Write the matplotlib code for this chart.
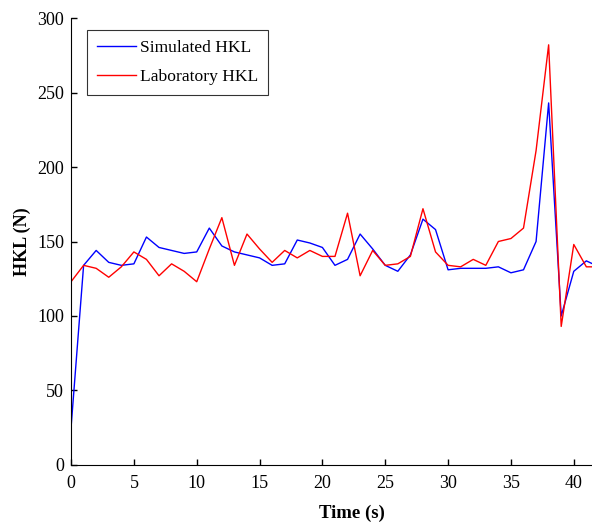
import numpy as np
import matplotlib
matplotlib.use("Agg")
import matplotlib.pyplot as plt

t = [0, 1, 2, 3, 4, 5, 6, 7, 8, 9, 10, 11, 12, 13, 14, 15, 16, 17, 18, 19, 20,
     21, 22, 23, 24, 25, 26, 27, 28, 29, 30, 31, 32, 33, 34, 35, 36, 37, 38,
     39, 40, 41, 42]
simulated = [25, 134, 144, 136, 134, 135, 153, 146, 144, 142, 143, 159, 147,
             143, 141, 139, 134, 135, 151, 149, 146, 134, 138, 155, 145, 134,
             130, 141, 165, 158, 131, 132, 132, 132, 133, 129, 131, 150, 243,
             100, 130, 137, 133]
laboratory = [123, 134, 132, 126, 133, 143, 138, 127, 135, 130, 123, 145, 166,
              134, 155, 145, 136, 144, 139, 144, 140, 140, 169, 127, 144, 134,
              135, 140, 172, 143, 134, 133, 138, 134, 150, 152, 159, 211, 282,
              93, 148, 133, 133]

plt.rcParams['font.family'] = ['Liberation Serif', 'DejaVu Serif']
fig = plt.figure(figsize=(5.92, 5.25), dpi=100)
ax = fig.add_axes([0.12, 0.1143, 0.88, 0.8514])

ax.plot(t, simulated, color='#0000ff', lw=1.0, label='Simulated HKL')
ax.plot(t, laboratory, color='#ff0000', lw=1.0, label='Laboratory HKL')

ax.set_xlim(0, 41.45)
ax.set_ylim(0, 300)
ax.set_xticks(np.arange(0, 45, 5))
ax.set_yticks(np.arange(0, 301, 50))
ax.tick_params(direction='in', labelsize=13, length=4, width=1)
ax.tick_params(axis='y', pad=5)
ax.tick_params(axis='x', pad=7)
ax.spines['top'].set_visible(False)
ax.spines['right'].set_visible(False)
# the original axes runs past the cropped right edge, so the label sits off-centre
ax.set_xlabel('Time (s)', fontsize=13.5, weight='bold')
ax.xaxis.set_label_coords(0.54, -0.088)
ax.set_ylabel('HKL (N)', fontsize=13, weight='bold', labelpad=4.5)

leg = ax.legend(loc='upper left', bbox_to_anchor=(0.031, 0.973), fontsize=12.6,
                frameon=True, fancybox=False, edgecolor='black',
                handlelength=2.2, handletextpad=0.25, labelspacing=0.72,
                borderpad=0.57, borderaxespad=0)
leg.get_frame().set_linewidth(0.8)

fig.savefig('out.png', dpi=100)
